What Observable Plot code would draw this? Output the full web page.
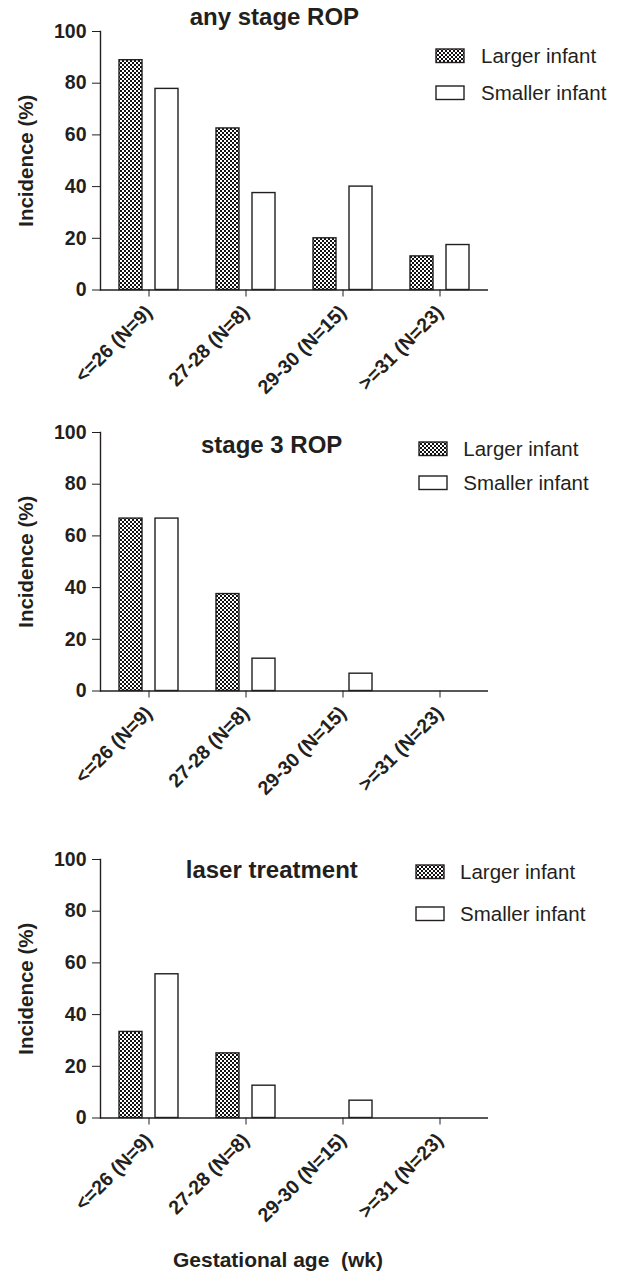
<!DOCTYPE html>
<html>
<head>
<meta charset="utf-8">
<script src="https://cdn.jsdelivr.net/npm/d3@7"></script>
<script src="https://cdn.jsdelivr.net/npm/@observablehq/plot@0.6"></script>
<style>
  body { margin: 0; background: #fff; }
  #root { position: relative; width: 617px; height: 1271px; overflow: hidden;
          font-family: "Liberation Sans", Arial, sans-serif; color: #231f20; }
  .panel { position: absolute; left: 0; }
  .title { position: absolute; font-weight: bold; font-size: 24px; line-height: 24px;
           white-space: nowrap; transform: translateX(-50%); }
  .legtext { position: absolute; font-size: 20.5px; line-height: 20.5px; white-space: nowrap; }
  .legbox { position: absolute; }
  .xtitle { position: absolute; font-weight: bold; font-size: 21px; line-height: 21px;
            white-space: pre; transform: translateX(-50%); }
</style>
</head>
<body>
<svg width="0" height="0" style="position:absolute">
  <defs>
    <pattern id="checker" width="4" height="4" patternUnits="userSpaceOnUse">
      <rect width="4" height="4" fill="#ffffff"/>
      <rect width="2" height="2" fill="#111111"/>
      <rect x="2" y="2" width="2" height="2" fill="#111111"/>
    </pattern>
  </defs>
</svg>
<div id="root"></div>
<script>
// ---- data ----
const groups = ["<=26 (N=9)", "27-28 (N=8)", "29-30 (N=15)", ">=31 (N=23)"];
const seriesNames = ["Larger infant", "Smaller infant"];
const panelTitles = ["any stage ROP", "stage 3 ROP", "laser treatment"];
const anyLarger = [88.9, 62.5, 20.0, 13.0];
const anySmaller = [77.8, 37.5, 40.0, 17.4];
const stage3Larger = [66.7, 37.5, 0, 0];
const stage3Smaller = [66.7, 12.5, 6.7, 0];
const laserLarger = [33.3, 25.0, 0, 0];
const laserSmaller = [55.6, 12.5, 6.7, 0];
const yTicks = [0, 20, 40, 60, 80, 100];
const yLabel = "Incidence (%)";
const xLabel = "Gestational age  (wk)";

// ---- layout ----
const ink = "#231f20";
const root = document.getElementById("root");
const panels = [
  {title: panelTitles[0], larger: anyLarger, smaller: anySmaller, top: 0,
   titleX: 274.4, titleBase: 25, legX: 436, legTextX: 481, legB: [63, 100]},
  {title: panelTitles[1], larger: stage3Larger, smaller: stage3Smaller, top: 400.7,
   titleX: 271.7, titleBase: 453.3, legX: 419.3, legTextX: 463.3, legB: [456, 490]},
  {title: panelTitles[2], larger: laserLarger, smaller: laserSmaller, top: 828,
   titleX: 271.8, titleBase: 878.3, legX: 416.3, legTextX: 460, legB: [879, 921]}
];

function makePlot(larger, smaller) {
  const data = groups.flatMap((g, i) => [
    {group: g, series: seriesNames[0], value: larger[i]},
    {group: g, series: seriesNames[1], value: smaller[i]}
  ]);
  const barOpts = {x: "group", y: "value", stroke: ink, strokeWidth: 1.4, insetLeft: 37, insetRight: 37};
  return Plot.plot({
    width: 617,
    height: 400,
    marginLeft: 100,
    marginRight: 129,
    marginTop: 31,
    marginBottom: 110.5,
    style: {fontFamily: '"Liberation Sans", Arial, sans-serif', fontSize: "19.5px", fontWeight: "bold",
            color: ink, background: "transparent", overflow: "visible"},
    x: {domain: groups, padding: 0},
    y: {domain: [0, 100]},
    marks: [
      Plot.barY(data, {...barOpts, filter: d => d.series === seriesNames[0] && d.value > 0,
                       fill: "url(#checker)", dx: -18}),
      Plot.barY(data, {...barOpts, filter: d => d.series === seriesNames[1] && d.value > 0,
                       fill: "white", dx: 18}),
      Plot.axisY({ticks: yTicks, tickSize: 8, tickPadding: 6, label: null, fontSize: 19.5, fontWeight: "bold", stroke: ink, fill: ink}),
      Plot.axisX({tickSize: 7, tickRotate: -45, tickPadding: 12, label: null, fontSize: 19.5, fontWeight: "bold", stroke: ink, fill: ink}),
      Plot.ruleY([0], {stroke: ink, strokeWidth: 1.4}),
      Plot.frame({anchor: "left", stroke: ink, strokeWidth: 1.4}),
      Plot.text([yLabel], {frameAnchor: "left", textAnchor: "middle", rotate: -90, dx: -74,
                           fontSize: 20.5, fontWeight: "bold", fill: ink})
    ]
  });
}

function el(tag, cls, css, text) {
  const e = document.createElement(tag);
  if (cls) e.className = cls;
  Object.assign(e.style, css);
  if (text != null) e.textContent = text;
  root.appendChild(e);
  return e;
}

for (const p of panels) {
  const svg = makePlot(p.larger, p.smaller);
  svg.classList.add("panel");
  svg.style.top = p.top + "px";
  root.appendChild(svg);

  el("div", "title", {left: p.titleX + "px", top: (p.titleBase - 0.8465 * 24) + "px"}, p.title);

  seriesNames.forEach((name, i) => {
    const b = p.legB[i];
    const box = document.createElementNS("http://www.w3.org/2000/svg", "svg");
    box.setAttribute("width", 30);
    box.setAttribute("height", 16);
    box.setAttribute("class", "legbox");
    box.style.left = (p.legX - 1) + "px";
    box.style.top = (b - 15) + "px";
    const r = document.createElementNS("http://www.w3.org/2000/svg", "rect");
    r.setAttribute("x", 1); r.setAttribute("y", 1);
    r.setAttribute("width", 28); r.setAttribute("height", 13.5);
    r.setAttribute("fill", i === 0 ? "url(#checker)" : "white");
    r.setAttribute("stroke", ink); r.setAttribute("stroke-width", 1.4);
    box.appendChild(r);
    root.appendChild(box);
    el("div", "legtext", {left: p.legTextX + "px", top: (b - 0.8465 * 20.5) + "px"}, name);
  });
}

el("div", "xtitle", {left: "278px", top: (1266.5 - 0.8465 * 21) + "px"}, xLabel);
</script>
</body>
</html>
